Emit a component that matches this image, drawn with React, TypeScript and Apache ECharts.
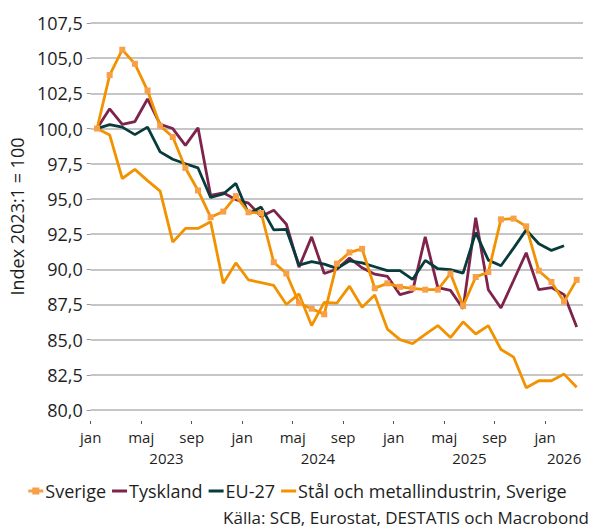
import React, { useEffect, useRef } from "react";
import * as echarts from "echarts";

const monthNames = ["jan", "maj", "sep"];
const firstYear = 2023;
const seriesNames = ["Sverige", "Tyskland", "EU-27", "Stål och metallindustrin, Sverige"];

const sverige = [
  100, 103.8, 105.6, 104.6, 102.7, 100.2, 99.4, 97.2, 95.6, 93.7, 94.1, 95.2,
  94.05, 94.0, 90.5, 89.7, 87.6, 87.2, 86.8, 90.4, 91.2, 91.45, 88.65, 89.0,
  88.75, 88.65, 88.55, 88.55, 89.7, 87.4, 89.45, 89.8, 93.55, 93.6, 93.05, 89.9,
  89.1, 87.7, 89.25,
];
const tyskland = [
  100, 101.4, 100.3, 100.5, 102.1, 100.3, 100.0, 98.8, 100.05, 95.25, 95.43, 94.95,
  94.7, 93.75, 94.2, 93.2, 90.15, 92.3, 89.7, 90.0, 90.8, 90.1, 89.65, 89.5,
  88.2, 88.45, 92.3, 88.7, 88.5, 87.2, 93.66, 88.55, 87.25, 89.2, 91.17, 88.55,
  88.7, 88.2, 85.9,
];
const eu27 = [
  100, 100.28, 100.1, 99.57, 100.1, 98.34, 97.82, 97.5, 97.2, 95.1, 95.35, 96.1,
  93.95, 94.42, 92.8, 92.83, 90.3, 90.54, 90.37, 90.06, 90.6, 90.46, 90.18, 89.9,
  89.9, 89.28, 90.63, 90.04, 89.97, 89.73, 92.6, 90.65, 90.25, 91.5, 92.8, 91.81,
  91.34, 91.67,
];
const stal = [
  100, 99.55, 96.45, 97.1, 96.3, 95.55, 91.93, 92.9, 92.9, 93.37, 89.0, 90.45,
  89.24, 89.05, 88.85, 87.5, 88.25, 86.0, 87.65, 87.6, 88.8, 87.3, 88.17, 85.75,
  85.0, 84.72, 85.37, 86.0, 85.15, 86.27, 85.4, 86.0, 84.3, 83.76, 81.58, 82.08,
  82.08, 82.55, 81.62,
];

const yTicks = { min: 80, max: 107.5, interval: 2.5 };
const monthCount = 39;

const FONT = "Open Sans";
const lineIcon = "path://M0,0h15v3h-15z";
const markerIcon = "path://M0,2h4v-2h7v2h4v3h-4v2h-7v-2h-4z";

export default function App() {
  const ref = useRef<HTMLDivElement>(null);
  useEffect(() => {
    document.body.style.margin = "0";
    const chart = echarts.init(ref.current!, null, { renderer: "svg" });
    const toPts = (arr: number[]) => arr.map((v, i) => [i + 0.5, v]);
    const monthTicks: number[] = [];
    for (let m = 0; m < monthCount; m += 4) monthTicks.push(m);
    const yearCenters: number[] = [];
    for (let s = 0; s < monthCount; s += 12) {
      yearCenters.push((s + Math.min(s + 12, monthCount)) / 2);
    }
    const textColor = "#1e1e1e";
    chart.setOption({
      animation: false,
      textStyle: { fontFamily: FONT },
      grid: { left: 89, right: 12, top: 23, bottom: 119, containLabel: false },
      xAxis: [
        {
          type: "value",
          min: 0,
          max: monthCount,
          offset: 11,
          axisLine: { show: false },
          splitLine: { show: false },
          axisTick: { show: true, customValues: monthTicks, length: 3, lineStyle: { color: "#555", width: 1 } },
          axisLabel: {
            customValues: monthTicks,
            margin: 8,
            fontSize: 15,
            color: textColor,
            fontFamily: FONT,
            formatter: (v: number) => monthNames[Math.round(v % 12) / 4] ?? "",
          },
        },
        {
          type: "value",
          min: 0,
          max: monthCount,
          position: "bottom",
          offset: 11,
          axisLine: { show: false },
          splitLine: { show: false },
          axisTick: { show: false },
          axisLabel: {
            customValues: yearCenters,
            margin: 29,
            fontSize: 15,
            color: textColor,
            fontFamily: FONT,
            formatter: (v: number) => String(firstYear + Math.floor(v / 12)),
          },
        },
      ],
      yAxis: {
        type: "value",
        min: yTicks.min,
        max: yTicks.max,
        interval: yTicks.interval,
        name: "Index 2023:1 = 100",
        nameLocation: "middle",
        nameGap: 53,
        nameTextStyle: { fontSize: 18, color: textColor, fontFamily: FONT },
        axisLine: { show: false },
        axisTick: { show: true, length: 4, lineStyle: { color: "#999" } },
        splitLine: { lineStyle: { color: "#b3b3b3", width: 1.5 } },
        axisLabel: {
          margin: 8,
          fontSize: 18,
          color: textColor,
          fontFamily: FONT,
          formatter: (v: number) => v.toFixed(1).replace(".", ","),
        },
      },
      legend: {
        left: "center",
        top: 477,
        itemGap: 6,
        itemWidth: 15,
        itemHeight: 7,
        textStyle: { fontSize: 18, color: textColor, fontFamily: FONT, padding: [0, 0, 0, -3] },
        data: [
          { name: seriesNames[0], icon: markerIcon },
          { name: seriesNames[1], icon: lineIcon },
          { name: seriesNames[2], icon: lineIcon },
          { name: seriesNames[3], icon: lineIcon },
        ],
      },
      graphic: [
        {
          type: "text",
          right: 6,
          top: 509,
          style: {
            text: "Källa: SCB, Eurostat, DESTATIS och Macrobond",
            fontSize: 17,
            fill: textColor,
            fontFamily: FONT,
          },
        },
      ],
      series: [
        {
          name: seriesNames[0],
          type: "line",
          data: toPts(sverige),
          symbol: "rect",
          symbolSize: 6,
          itemStyle: { color: "#f7a048" },
          lineStyle: { color: "#f39200", width: 2.8 },
          z: 4,
        },
        {
          name: seriesNames[1],
          type: "line",
          data: toPts(tyskland),
          showSymbol: false,
          symbol: "none",
          itemStyle: { color: "#7d234c" },
          lineStyle: { color: "#7d234c", width: 2.8 },
          z: 3,
        },
        {
          name: seriesNames[2],
          type: "line",
          data: toPts(eu27),
          showSymbol: false,
          symbol: "none",
          itemStyle: { color: "#083c3c" },
          lineStyle: { color: "#083c3c", width: 2.8 },
          z: 3,
        },
        {
          name: seriesNames[3],
          type: "line",
          data: toPts(stal),
          showSymbol: false,
          symbol: "none",
          itemStyle: { color: "#f39200" },
          lineStyle: { color: "#f39200", width: 2.8 },
          z: 3,
        },
      ],
    });
    return () => chart.dispose();
  }, []);
  return <div ref={ref} style={{ width: 595, height: 529 }} />;
}
